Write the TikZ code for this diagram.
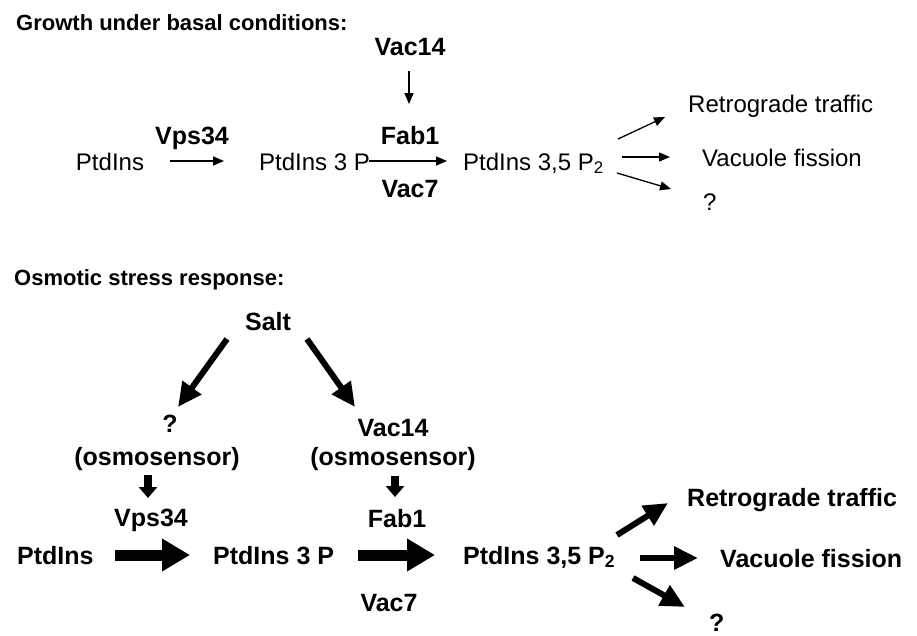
\documentclass[tikz,border=0pt]{standalone}
\usepackage{fontspec}
\setmainfont{Liberation Sans}
\usetikzlibrary{arrows.meta}
\tikzset{
  reg/.style={inner sep=0pt, font=\fontsize{24}{28}\selectfont},
  bld/.style={inner sep=0pt, font=\fontsize{25}{29}\selectfont\bfseries},
  ttl/.style={inner sep=0pt, anchor=base west, font=\fontsize{22}{26}\selectfont\bfseries},
  thin/.style={line width=1.3pt, -{Triangle[length=11pt,width=9pt]}},
  mid/.style={line width=6pt, -{Triangle[length=24pt,width=22pt]}},
  big/.style={line width=11pt, -{Triangle[length=28pt,width=31pt]}},
  small/.style={line width=8pt, -{Triangle[length=11pt,width=18pt]}},
}
\begin{document}
\begin{tikzpicture}[x=1pt,y=-1pt]
\useasboundingbox (0,0) rectangle (917,635);
% ---------- top ----------
\node[ttl] (t1) at (16,30) {Growth under basal conditions:};
\node[bld, anchor=base] (vac14a) at (410,55) {Vac14};
\node[bld, anchor=base] (fab1a) at (410,144) {Fab1};
\node[bld, anchor=base] (vps34a) at (192,144) {Vps34};
\node[reg, anchor=base] (pia) at (110,170) {PtdIns};
\node[reg, anchor=base west] (pi3a) at (259,170) {PtdIns 3 P};
\node[reg, anchor=base west] (pi35a) at (463,170) {PtdIns 3,5 P\textsubscript{2}};
\node[bld, anchor=base] (vac7a) at (410,197) {Vac7};
\node[reg, anchor=base west] (reta) at (688,112) {Retrograde traffic};
\node[reg, anchor=base west] (vfa) at (702,166) {Vacuole fission};
\node[reg, anchor=base west] (qa) at (703,210) {?};
\coordinate (a1s) at (618,139); \coordinate (a1e) at (665,117);
\coordinate (a2s) at (622,157); \coordinate (a2e) at (670,157);
\coordinate (a3s) at (617,173); \coordinate (a3e) at (671,189);
\coordinate (v14s) at (409,71); \coordinate (v14e) at (409,104);
\coordinate (va1) at (170,161); \coordinate (va2) at (224,161);
\coordinate (fa1) at (369,161); \coordinate (fa2) at (447,161);
\draw[thin] (v14s) -- (v14e);
\draw[thin] (va1) -- (va2);
\draw[thin] (fa1) -- (fa2);
\draw[thin] (a1s) -- (a1e);
\draw[thin] (a2s) -- (a2e);
\draw[thin] (a3s) -- (a3e);
% ---------- bottom ----------
\node[ttl] (t2) at (14,285) {Osmotic stress response:};
\node[bld, anchor=base] (salt) at (268,330) {Salt};
\node[bld, anchor=base] (qs) at (170,432) {?};
\node[bld, anchor=base] (osl) at (157,465) {(osmosensor)};
\node[bld, anchor=base] (vac14b) at (393,436) {Vac14};
\node[bld, anchor=base] (osr) at (393,465) {(osmosensor)};
\node[bld, anchor=base] (vps34b) at (151,526) {Vps34};
\node[bld, anchor=base] (fab1b) at (397,527) {Fab1};
\node[bld, anchor=base west] (pib) at (17,564) {PtdIns};
\node[bld, anchor=base west] (pi3b) at (213,564) {PtdIns 3 P};
\node[bld, anchor=base west] (pi35b) at (463,564) {PtdIns 3,5 P\textsubscript{2}};
\node[bld, anchor=base] (vac7b) at (389,611) {Vac7};
\node[bld, anchor=base west] (retb) at (687,506) {Retrograde traffic};
\node[bld, anchor=base west] (vfb) at (720,567) {Vacuole fission};
\node[bld, anchor=base west] (qb) at (709,631) {?};
\coordinate (s1s) at (227,339); \coordinate (s1e) at (178,407);
\coordinate (s2s) at (307,339); \coordinate (s2e) at (355,407);
\coordinate (d1s) at (148,475); \coordinate (d1e) at (148,498);
\coordinate (d2s) at (395,476); \coordinate (d2e) at (395,497);
\coordinate (b1s) at (115,555); \coordinate (b1e) at (190,555);
\coordinate (b2s) at (358,555); \coordinate (b2e) at (435,555);
\coordinate (r1s) at (617,535); \coordinate (r1e) at (668,503);
\coordinate (r2s) at (640,558); \coordinate (r2e) at (698,558);
\coordinate (r3s) at (633,578); \coordinate (r3e) at (685,607);
\draw[mid] (s1s) -- (s1e);
\draw[mid] (s2s) -- (s2e);
\draw[small] (d1s) -- (d1e);
\draw[small] (d2s) -- (d2e);
\draw[big] (b1s) -- (b1e);
\draw[big] (b2s) -- (b2e);
\draw[mid] (r1s) -- (r1e);
\draw[mid] (r2s) -- (r2e);
\draw[mid] (r3s) -- (r3e);
\end{tikzpicture}
\end{document}
